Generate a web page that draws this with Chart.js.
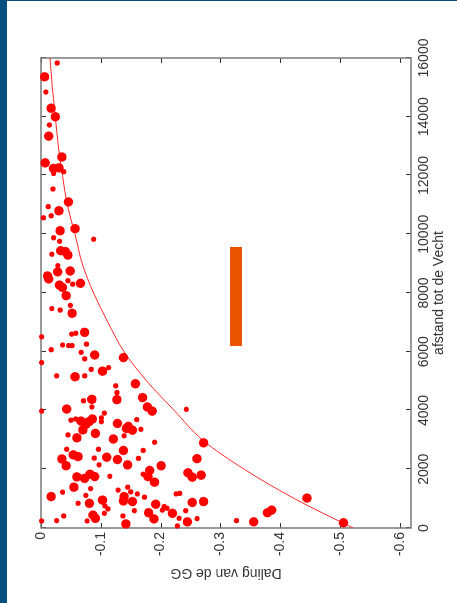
<!DOCTYPE html>
<html>
<head>
<meta charset="utf-8">
<script src="https://cdn.jsdelivr.net/npm/chart.js@4"></script>
<style>
html,body{margin:0;padding:0;background:#fff;}
body{width:457px;height:603px;position:relative;overflow:hidden;}
#wrap{position:absolute;left:0;top:0;width:603px;height:457px;transform-origin:0 0;transform:translate(0px,603px) rotate(-90deg);}
#side{position:absolute;left:0;top:0;width:7px;height:603px;background:#034f7e;}
#topbar{position:absolute;left:0;top:0;width:457px;height:1px;background:#034f7e;}
#mark{position:absolute;left:230px;top:247px;width:12px;height:99px;background:#e85400;}
</style>
</head>
<body>
<div id="wrap"><canvas id="c" width="603" height="457"></canvas></div>
<div id="side"></div>
<div id="topbar"></div>
<div id="mark"></div>
<script>
// large markers
const bigAfstand=[15360,14290,14000,13340,12630,12430,12240,12260,11100,10800,10120,10190,9440,9410,9290,8720,8750,8580,8480,8330,8270,8190,7910,7310,6660,5890,5800,5340,5150,4910,4380,4370,4440,4050,4120,3980,3640,3530,3620,3710,3340,3560,3460,3330,3390,3220,3070,3030,2640,2490,2430,2350,2120,2410,2330,2150,2120,1960,1750,1880,1730,1740,1690,1830,1750,1560,1390,1070,1070,950,920,900,840,870,810,520,310,500,440,330,140,210,2900,2360,1800,900,210,520,610,1020,180]
const bigDaling=[-0.006,-0.017,-0.024,-0.013,-0.035,-0.007,-0.021,-0.030,-0.046,-0.030,-0.032,-0.057,-0.033,-0.041,-0.045,-0.028,-0.049,-0.011,-0.013,-0.066,-0.031,-0.036,-0.042,-0.052,-0.073,-0.090,-0.138,-0.103,-0.057,-0.158,-0.085,-0.127,-0.170,-0.043,-0.178,-0.186,-0.067,-0.075,-0.080,-0.086,-0.070,-0.128,-0.146,-0.153,-0.143,-0.091,-0.060,-0.121,-0.138,-0.054,-0.062,-0.035,-0.042,-0.110,-0.128,-0.145,-0.201,-0.182,-0.179,-0.246,-0.253,-0.060,-0.073,-0.082,-0.090,-0.190,-0.055,-0.139,-0.017,-0.103,-0.138,-0.153,-0.081,-0.253,-0.192,-0.180,-0.189,-0.220,-0.087,-0.091,-0.142,-0.245,-0.272,-0.261,-0.268,-0.272,-0.356,-0.379,-0.386,-0.445,-0.506]

// small markers
const smallAfstand=[15830,14840,13720,12130,12070,11540,10940,10630,10560,9880,9760,9830,9320,8930,8420,8300,7580,7470,7420,6630,6600,6510,6260,6230,6210,6210,6070,5980,5630,5760,5400,5460,5180,5180,4840,4610,4330,4120,3980,4040,3910,3750,3620,3670,3710,3690,3360,3170,3140,2920,2680,2680,2640,2380,2370,2150,1830,1760,1340,1290,1390,1230,1160,1160,1180,1220,1110,1050,840,750,650,730,670,610,590,590,500,410,410,330,250,240,240,70,320,250]
const smallDaling=[-0.027,-0.008,-0.014,-0.038,-0.021,-0.020,-0.012,-0.017,-0.004,-0.021,-0.031,-0.088,-0.018,-0.028,-0.045,-0.053,-0.049,-0.018,-0.032,-0.058,-0.051,-0.001,-0.076,-0.036,-0.046,-0.052,-0.017,-0.067,-0.001,-0.073,-0.084,-0.113,-0.026,-0.073,-0.125,-0.127,-0.071,-0.085,-0.001,-0.243,-0.106,-0.101,-0.101,-0.050,-0.058,-0.160,-0.167,-0.045,-0.139,-0.190,-0.096,-0.043,-0.171,-0.089,-0.163,-0.097,-0.171,-0.115,-0.083,-0.129,-0.145,-0.150,-0.161,-0.226,-0.232,-0.036,-0.075,-0.173,-0.062,-0.107,-0.112,-0.206,-0.211,-0.203,-0.156,-0.242,-0.106,-0.038,-0.137,-0.231,-0.026,-0.077,-0.001,-0.228,-0.261,-0.327]

// fitted curve
const curveAfstand=[0,1000,2000,3000,4000,5000,6000,7000,8000,9000,10000,11000,12000,13000,14000,15000,16000]
const curveDaling=[-0.522,-0.424,-0.340,-0.270,-0.223,-0.177,-0.139,-0.112,-0.088,-0.069,-0.057,-0.044,-0.036,-0.029,-0.024,-0.019,-0.015]

const afstandTicks=[0,2000,4000,6000,8000,10000,12000,14000,16000]
const dalingTicks=[0,-0.1,-0.2,-0.3,-0.4,-0.5,-0.6]

const pts=(xs,ys)=>xs.map((v,i)=>({x:v,y:ys[i]}))

const fontFam="'Liberation Sans', Arial, sans-serif"
const txt="#333"

// matlab style box with inward ticks on all sides
const boxPlugin={
id:"box",
beforeDatasetsDraw(chart){
const {ctx,chartArea:a,scales:{x,y}}=chart
ctx.save()
ctx.strokeStyle="#333"
ctx.lineWidth=1
ctx.beginPath()
afstandTicks.forEach(v=>{
const px=Math.round(x.getPixelForValue(v))+0.5
ctx.moveTo(px,a.bottom);ctx.lineTo(px,a.bottom-5)
ctx.moveTo(px,a.top);ctx.lineTo(px,a.top+5)
})
dalingTicks.forEach(v=>{
const py=Math.round(y.getPixelForValue(v))+0.5
ctx.moveTo(a.left,py);ctx.lineTo(a.left+5,py)
ctx.moveTo(a.right,py);ctx.lineTo(a.right-5,py)
})
ctx.stroke()
ctx.strokeStyle="#7a7a7a"
ctx.lineWidth=1.5
ctx.strokeRect(a.left,a.top,a.right-a.left,a.bottom-a.top)
ctx.restore()
}
}

new Chart(document.getElementById("c"),{
type:"scatter",
data:{
datasets:[
{
data:pts(bigAfstand,bigDaling),
backgroundColor:"#ff0000",
borderWidth:0,
pointRadius:4.7,
clip:false
},
{
data:pts(smallAfstand,smallDaling),
backgroundColor:"#ff0000",
borderWidth:0,
pointRadius:2.6,
clip:false
},
{
type:"line",
data:pts(curveAfstand,curveDaling),
borderColor:"#ff2a2a",
borderWidth:1,
pointRadius:0,
fill:false,
cubicInterpolationMode:"monotone"
}
]
},
options:{
responsive:false,
animation:false,
events:[],
layout:{padding:{left:0,top:41,right:58,bottom:0}},
plugins:{legend:{display:false},tooltip:{enabled:false}},
scales:{
x:{
type:"linear",
min:0,
max:16000,
afterFit(s){s.height=46},
afterBuildTicks(s){s.ticks=afstandTicks.map(v=>({value:v}))},
grid:{display:false,drawTicks:false},
border:{display:false},
ticks:{padding:5,color:txt,font:{family:fontFam,size:14},maxRotation:0,autoSkip:false,callback:v=>String(v)},
title:{display:true,text:"afstand tot de Vecht",color:txt,font:{family:fontFam,size:14},padding:{top:0,bottom:9}}
},
y:{
type:"linear",
min:-0.619,
max:0,
afterFit(s){s.width=75},
afterBuildTicks(s){s.ticks=dalingTicks.map(v=>({value:v}))},
grid:{display:false,drawTicks:false},
border:{display:false},
ticks:{padding:4,color:txt,font:{family:fontFam,size:14},autoSkip:false,callback:v=>v===0?"0":v.toFixed(1)},
title:{display:true,text:"Daling van de GG",color:txt,font:{family:fontFam,size:14},padding:{top:22,bottom:0}}
}
}
},
plugins:[boxPlugin]
})
</script>
</body>
</html>
